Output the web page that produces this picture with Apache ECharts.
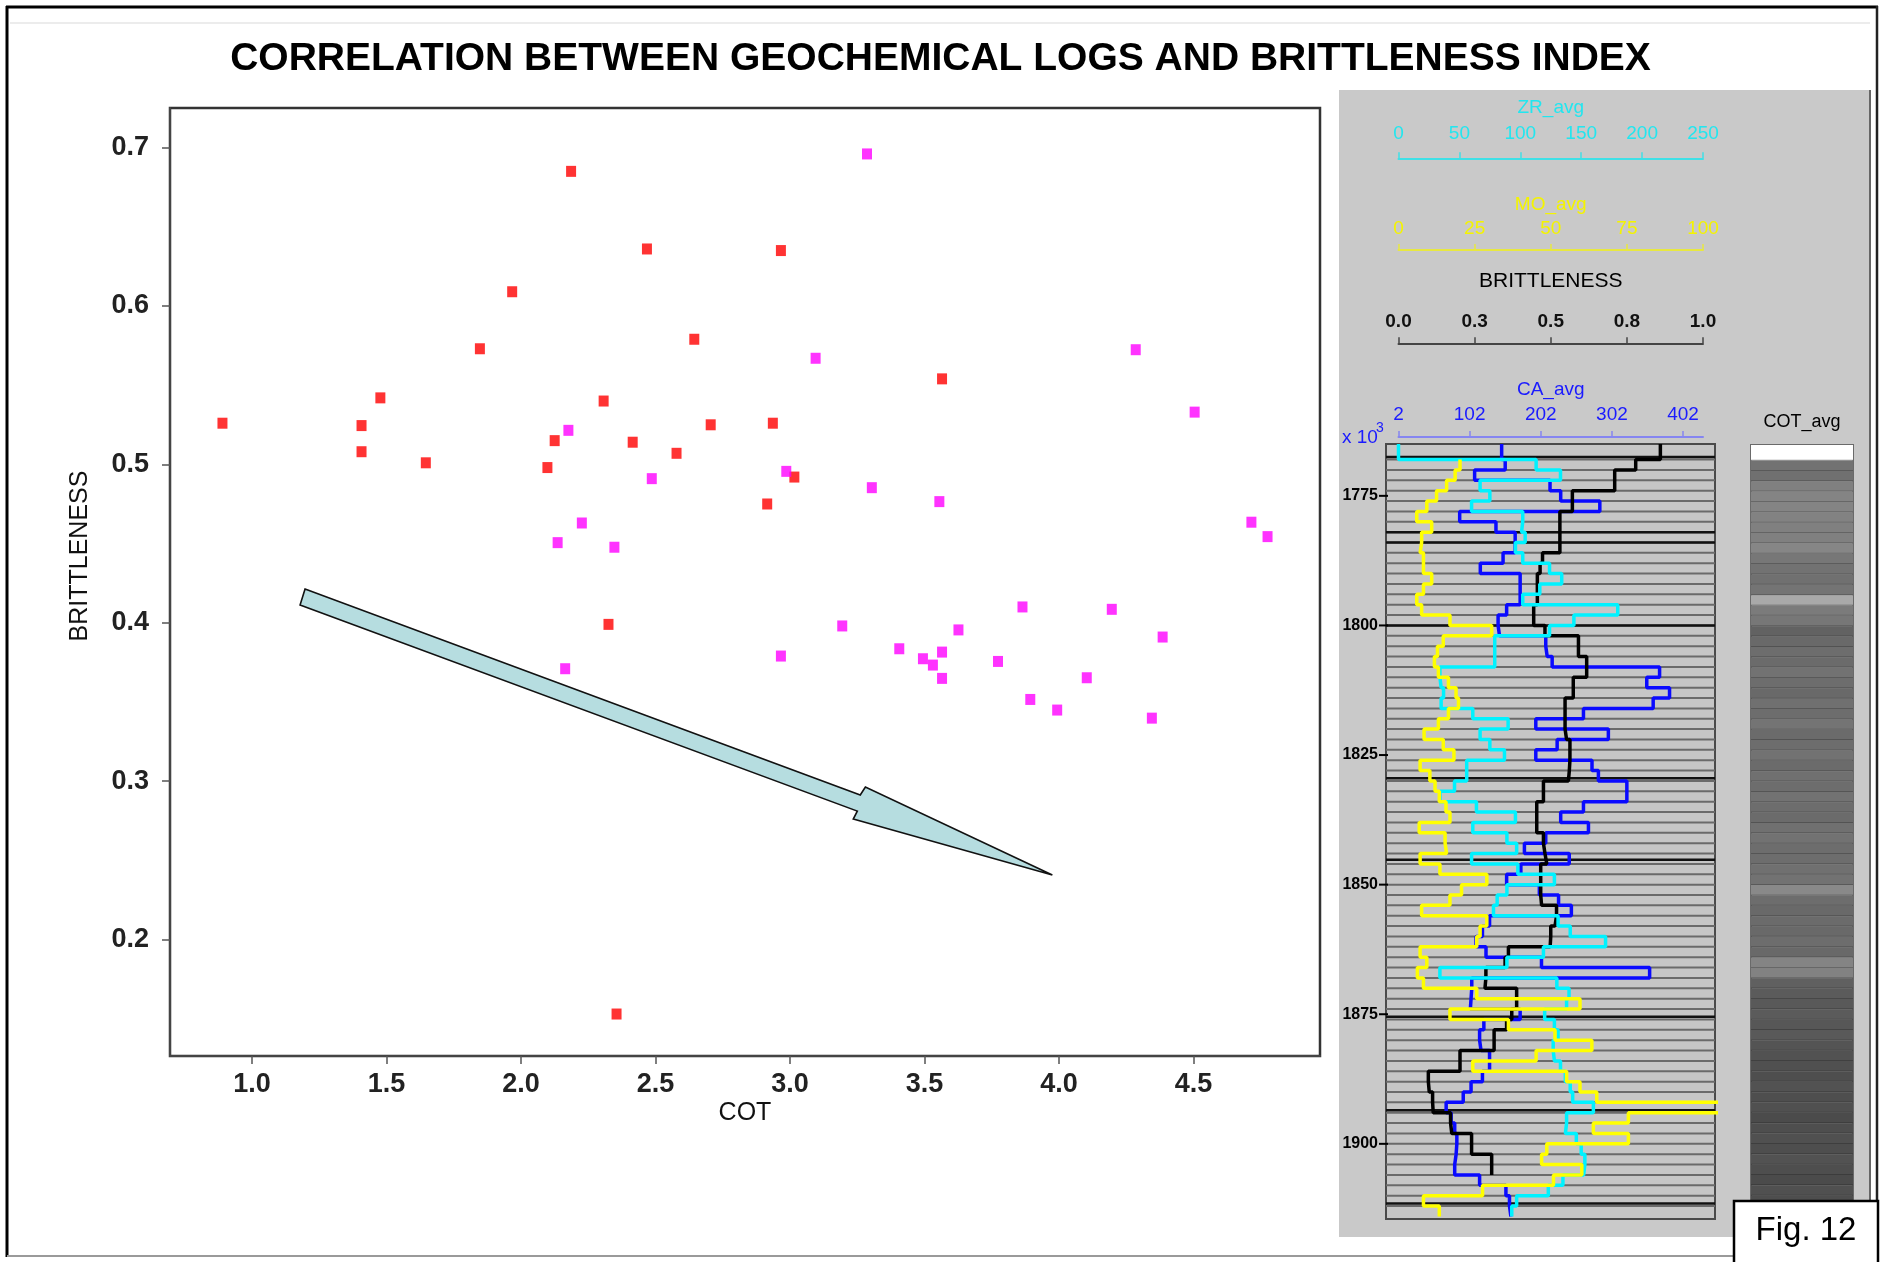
<!DOCTYPE html>
<html>
<head>
<meta charset="utf-8">
<script src="https://cdn.jsdelivr.net/npm/echarts@6/dist/echarts.min.js"></script>
<style>html,body{margin:0;padding:0;background:#fff}#c{width:1881px;height:1262px}</style>
</head>
<body>
<div id="c"></div>
<script>
// ---------------- DATA ----------------
// Scatter: [COT, BRITTLENESS]
const redPts = [[0.89,0.526],[1.407,0.5245],[1.407,0.508],[1.477,0.542],[1.646,0.501],[1.847,0.573],[1.967,0.609],
  [2.186,0.685],[2.468,0.636],[2.307,0.540],[2.125,0.515],[2.098,0.498],[2.415,0.514],[2.578,0.507],[2.644,0.579],
  [2.325,0.399],[2.966,0.635],[3.565,0.554],[2.705,0.525],[2.936,0.526],[3.016,0.492],[2.915,0.475],[2.355,0.153]];
const magentaPts = [[2.176,0.5215],[2.486,0.491],[2.226,0.463],[2.136,0.4506],[2.347,0.4477],[3.286,0.696],[3.095,0.567],
  [4.285,0.5724],[4.504,0.533],[2.986,0.4956],[3.304,0.4853],[3.555,0.4765],[4.715,0.4635],[4.775,0.4544],[3.864,0.410],
  [4.196,0.4085],[3.194,0.398],[3.626,0.3955],[4.385,0.391],[2.966,0.379],[3.406,0.3836],[3.494,0.3773],[3.565,0.3815],
  [3.531,0.3733],[3.565,0.3649],[3.773,0.3756],[4.103,0.3653],[3.893,0.3516],[3.993,0.3449],[4.345,0.3398],[2.164,0.371]];
const xTickVals = [1.0,1.5,2.0,2.5,3.0,3.5,4.0,4.5];
const yTickVals = [0.2,0.3,0.4,0.5,0.6,0.7];
// Annotation arrow outline (data coordinates of the scatter)
const arrowX = [1.197,3.261,3.280,3.975,3.235,3.250,1.1785];
const arrowY = [0.4213,0.2913,0.2963,0.2408,0.2761,0.2811,0.4112];

// Log panel: interval edges (ft) and step values per interval
const depthEdges = [1765,1768,1770,1772,1774,1776,1778,1780,1782,1784,1786,1788,1790,1792,1794,1796,1798,1800,1802,1804,
  1806,1808,1810,1812,1814,1816,1818,1820,1822,1824,1826,1828,1830,1832,1834,1836,1838,1840,1842,1844,1846,1848,1850,
  1852,1854,1856,1858,1860,1862,1864,1866,1868,1870,1872,1874,1876,1878,1880,1882,1884,1886,1888,1890,1892,1894,1896,
  1898,1900,1902,1904,1906,1908,1910,1912,1914];
const zrAvg = [0,113,133,67,75,60,102,101,104,96,102,124,134,116,102,180,144,124,
  79,79,79,34,35,37,35,61,90,67,75,87,56,56,46,34,64,96,61,89,
  97,60,98,128,89,81,78,131,141,170,119,89,34,130,140,138,120,128,131,
  127,128,133,137,141,143,160,138,137,146,150,153,152,135,123,97,93];
const moAvg = [null,20.2,18.6,15.8,12.5,9.3,6.0,10.9,7.6,7.1,8.2,8.2,10.9,8.2,6.0,7.6,16.9,30.6,
  14.7,12.8,11.8,13.1,16.4,18.9,19.7,16.4,13.1,8.4,14.7,18.2,7.1,10.3,12.0,13.4,15.6,16.9,6.8,15.3,
  15.8,7.1,13.6,29.0,20.7,16.9,7.6,29.0,26.8,25.7,7.1,9.3,6.2,8.2,25.7,59.6,16.9,36.1,51.4,
  63.5,45.2,24.4,55.2,59.6,65.1,120,75.5,64.0,75.5,48.7,47.0,60.2,50.9,27.6,8.2,13.4];
const caAvg = [147,152,109,215,230,285,88,139,166,166,149,117,173,173,173,154,142,144,
  209,211,218,369,351,383,360,262,195,297,225,195,274,283,323,323,262,230,269,209,
  179,242,174,154,200,227,245,130,120,111,125,203,355,105,104,103,173,122,116,
  118,130,130,120,104,93,69,76,81,84,83,81,81,116,153,158,160];
const brittLog = [0.860,0.779,0.710,0.710,0.571,0.571,0.530,0.530,0.530,0.530,0.473,0.465,0.456,0.456,0.456,0.444,0.444,0.481,
  0.591,0.591,0.618,0.618,0.574,0.574,0.547,0.547,0.547,0.552,0.563,0.563,0.561,0.558,0.476,0.476,0.454,0.454,0.454,0.476,
  0.481,0.487,0.467,0.467,0.467,0.470,0.519,0.514,0.500,0.498,0.361,0.350,0.287,0.284,0.388,0.388,0.372,0.355,0.314,
  0.314,0.202,0.202,0.098,0.101,0.112,0.114,0.171,0.175,0.240,0.240,0.306,0.306,null,null,null,null];
const cotAvg = [0.8,3.9,3.95,3.6,3.5,3.5,3.55,3.6,3.6,3.45,3.8,3.9,3.95,3.85,2.7,3.7,3.8,4.25,
  4.1,4.0,4.05,3.9,4.0,4.1,3.95,4.0,3.85,4.05,4.0,3.9,4.05,3.95,4.0,3.9,4.0,4.05,3.95,3.9,
  4.0,4.0,3.95,3.9,3.4,4.0,4.1,4.05,4.1,4.0,4.1,3.5,3.55,4.3,4.4,4.45,4.4,4.5,4.45,
  4.55,4.6,4.65,4.7,4.6,4.7,4.65,4.75,4.7,4.65,4.7,4.6,4.7,4.75,4.65,4.7,4.7];
const depthTicks = [1775,1800,1825,1850,1875,1900];
const caTicks = [2,102,202,302,402];
const darkLineDepths = [1767.5,1782,1784,1800,1829.5,1845.2,1875.5,1893.5,1911.5];

// ---------------- CHART ----------------
const SANS = "'Liberation Sans', Arial, sans-serif";
const chart = echarts.init(document.getElementById('c'), null, {renderer: 'canvas', width: 1881, height: 1262});

function stepPoints(vals) {
  const pts = [];
  for (let i = 0; i < vals.length; i++) {
    if (vals[i] == null) continue;
    pts.push([vals[i], depthEdges[i]]);
    pts.push([vals[i], depthEdges[i + 1]]);
  }
  return pts;
}
function hLineItem(color, width) {
  return function (params, api) {
    const cs = params.coordSys;
    const y = api.coord([api.value(0), api.value(1)])[1];
    return {type: 'line', shape: {x1: cs.x, y1: y, x2: cs.x + cs.width, y2: y},
      style: {stroke: color, lineWidth: width}};
  };
}
function visAxis(offset, min, max, interval, color, lineColor, name, nameGap, margin, nameFont, extra) {
  const ax = {
    gridIndex: 1, type: 'value', position: 'top', offset: offset, min: min, max: max, interval: interval,
    axisLine: {show: true, onZero: false, lineStyle: {color: lineColor, width: 2}},
    axisTick: {show: true, length: 6, lineStyle: {color: lineColor, width: 1.5}},
    axisLabel: {show: true, color: color, fontSize: 19, fontFamily: SANS, margin: margin},
    splitLine: {show: false},
    name: name, nameLocation: 'middle', nameGap: nameGap, nameMoveOverlap: false,
    nameTextStyle: Object.assign({color: color, fontSize: 19, fontFamily: SANS}, nameFont || {})
  };
  return Object.assign(ax, extra || {});
}

const option = {
  animation: false,
  backgroundColor: '#ffffff',
  textStyle: {fontFamily: SANS},
  title: {
    text: 'CORRELATION BETWEEN GEOCHEMICAL LOGS AND BRITTLENESS INDEX',
    left: 'center', top: 35,
    textStyle: {fontSize: 39, fontWeight: 'bold', fontFamily: SANS, color: '#000'}
  },
  grid: [
    {left: 170, top: 108, width: 1150, height: 948, show: true, borderColor: '#333', borderWidth: 2.5,
     backgroundColor: '#fff', containLabel: false, outerBoundsMode: 'none'},
    {left: 1398.5, top: 437, width: 304.5, height: 2, show: false, containLabel: false, outerBoundsMode: 'none'},
    {left: 1386, top: 444, width: 329, height: 775, show: true, backgroundColor: '#c6c6c6',
     borderColor: '#4a4a4a', borderWidth: 2, containLabel: false, outerBoundsMode: 'none'},
    {left: 1751, top: 445, width: 102, height: 774, show: true, backgroundColor: '#c6c6c6',
     borderColor: '#6a6a6a', borderWidth: 2, containLabel: false, outerBoundsMode: 'none'}
  ],
  xAxis: [
    {gridIndex: 0, type: 'value', min: 0.695, max: 4.97,
     axisLine: {show: true, onZero: false, lineStyle: {color: '#444', width: 2}},
     axisTick: {show: true, length: 8, customValues: xTickVals, lineStyle: {color: '#555', width: 1.5}},
     axisLabel: {customValues: xTickVals, formatter: v => Number(v).toFixed(1), fontSize: 27, fontWeight: 'bold',
       fontFamily: SANS, color: '#222', margin: 15},
     splitLine: {show: false},
     name: 'COT', nameLocation: 'middle', nameGap: 45, nameMoveOverlap: false,
     nameTextStyle: {fontSize: 25, color: '#111', fontFamily: SANS}},
    visAxis(278.7, 0, 250, 50, '#22e6ef', '#3fe0e6', 'ZR_avg', 41, 15),
    visAxis(187, 0, 100, 25, '#f4f400', '#e8e840', 'MO_avg', 36, 12),
    visAxis(93.7, 0, 1, 0.25, '#111', '#444', 'BRITTLENESS', 52, 12, {color: '#000', fontSize: 21},
      {axisLabel: {show: true, color: '#111', fontSize: 19, fontFamily: SANS, margin: 12, fontWeight: 'bold',
        formatter: v => Number(v).toFixed(1)}}),
    visAxis(0, 2, 430, 100, '#1a1aff', '#8585f0', 'CA_avg', 38, 12.5, null,
      {axisLabel: {show: true, color: '#1a1aff', fontSize: 19, fontFamily: SANS, margin: 12.5, customValues: caTicks},
       axisTick: {show: true, length: 6, customValues: caTicks, lineStyle: {color: '#8585f0', width: 1.5}}}),
    {gridIndex: 2, type: 'value', show: false, min: -10.26, max: 259.85},
    {gridIndex: 2, type: 'value', show: false, min: -4.105, max: 103.94},
    {gridIndex: 2, type: 'value', show: false, min: -0.04105, max: 1.03941},
    {gridIndex: 2, type: 'value', show: false, min: -15.57, max: 446.9},
    {gridIndex: 3, type: 'value', show: false, min: 0, max: 1}
  ],
  yAxis: [
    {gridIndex: 0, type: 'value', min: 0.1265, max: 0.725,
     axisLine: {show: true, onZero: false, lineStyle: {color: '#444', width: 2}},
     axisTick: {show: true, length: 8, customValues: yTickVals, lineStyle: {color: '#555', width: 1.5}},
     axisLabel: {customValues: yTickVals, formatter: v => Number(v).toFixed(1), fontSize: 27, fontWeight: 'bold',
       fontFamily: SANS, color: '#222', margin: 21},
     splitLine: {show: false},
     name: 'BRITTLENESS', nameLocation: 'middle', nameGap: 77, nameMoveOverlap: false,
     nameTextStyle: {fontSize: 25, color: '#111', fontFamily: SANS, padding: [0, 0, 0, 52]}},
    {gridIndex: 1, type: 'value', show: false, min: 0, max: 1},
    {gridIndex: 2, type: 'value', inverse: true, min: 1765, max: 1914.5,
     axisLine: {show: false},
     axisTick: {show: false},
     axisLabel: {customValues: depthTicks, formatter: v => String(Math.round(v)), fontSize: 16, fontFamily: SANS,
       fontWeight: 'bold', color: '#000', margin: 8},
     splitLine: {show: false}},
    {gridIndex: 3, type: 'value', show: false, inverse: true, min: 1765, max: 1914.5}
  ],
  visualMap: [{
    type: 'continuous', show: false, seriesIndex: 9, dimension: 3, min: 0.8, max: 5,
    inRange: {color: ['#ffffff', '#404040']}
  }],
  series: [
    {type: 'scatter', xAxisIndex: 0, yAxisIndex: 0, data: redPts, symbol: 'rect', symbolSize: [10, 11],
     itemStyle: {color: '#ff0000'}, z: 5},
    {type: 'scatter', xAxisIndex: 0, yAxisIndex: 0, data: magentaPts, symbol: 'rect', symbolSize: [10, 11],
     itemStyle: {color: '#ff00ff'}, z: 5},
    {type: 'custom', xAxisIndex: 0, yAxisIndex: 0, data: [[arrowX[0], arrowY[0]]], silent: true, z: 3,
     renderItem: function (params, api) {
       const pts = arrowX.map((x, i) => api.coord([x, arrowY[i]]));
       return {type: 'polygon', shape: {points: pts},
         style: {fill: '#b6dde0', stroke: '#111', lineWidth: 1.6}};
     }},
    {type: 'custom', xAxisIndex: 5, yAxisIndex: 2, silent: true, z: 1,
     data: depthEdges.slice(1, -1).map(d => [0, d]), encode: {x: 0, y: 1},
     renderItem: hLineItem('#6a6a6a', 2)},
    {type: 'custom', xAxisIndex: 5, yAxisIndex: 2, silent: true, z: 1,
     data: darkLineDepths.map(d => [0, d]), encode: {x: 0, y: 1},
     renderItem: hLineItem('#111', 2.5)},
    {type: 'line', xAxisIndex: 8, yAxisIndex: 2, data: stepPoints(caAvg), showSymbol: false, symbol: 'none',
     clip: true, z: 3, lineStyle: {color: '#0a0aff', width: 3.5}},
    {type: 'line', xAxisIndex: 7, yAxisIndex: 2, data: stepPoints(brittLog), showSymbol: false, symbol: 'none',
     clip: true, z: 3, lineStyle: {color: '#000000', width: 3.5}},
    {type: 'line', xAxisIndex: 5, yAxisIndex: 2, data: stepPoints(zrAvg), showSymbol: false, symbol: 'none',
     clip: true, z: 4, lineStyle: {color: '#00f2ff', width: 3.5}},
    {type: 'line', xAxisIndex: 6, yAxisIndex: 2, data: stepPoints(moAvg), showSymbol: false, symbol: 'none',
     clip: true, z: 4, lineStyle: {color: '#ffff00', width: 3.5}},
    {type: 'custom', xAxisIndex: 9, yAxisIndex: 3, silent: true, z: 2,
     data: cotAvg.map((v, i) => [0.5, depthEdges[i], depthEdges[i + 1], v]),
     dimensions: ['x', 'top', 'bottom', 'cot'], encode: {x: 0, y: [1, 2]},
     renderItem: function (params, api) {
       const cs = params.coordSys;
       const y1 = api.coord([0.5, api.value(1)])[1];
       const y2 = api.coord([0.5, api.value(2)])[1];
       const c = api.visual('color');
       return {type: 'group', children: [
         {type: 'rect', shape: {x: cs.x, y: y1, width: cs.width, height: y2 - y1}, style: {fill: c}},
         {type: 'line', shape: {x1: cs.x, y1: y2, x2: cs.x + cs.width, y2: y2},
          style: {stroke: 'rgba(0,0,0,0.22)', lineWidth: 2}}
       ]};
     }},
    // depth ticks on the left of the track (drawn through the depth scale)
    {type: 'custom', xAxisIndex: 5, yAxisIndex: 2, silent: true, z: 6, clip: false,
     data: depthTicks.map(d => [0, d]), encode: {x: 0, y: 1},
     renderItem: function (params, api) {
       const cs = params.coordSys;
       const y = api.coord([api.value(0), api.value(1)])[1];
       return {type: 'line', shape: {x1: cs.x - 7, y1: y, x2: cs.x + 2, y2: y},
         style: {stroke: '#000', lineWidth: 2}};
     }}
  ],
  graphic: {elements: [
    {type: 'rect', z: -10, silent: true, shape: {x: 1339, y: 90, width: 531, height: 1147}, style: {fill: '#c9c9c9'}},
    {type: 'line', z: 10, silent: true, shape: {x1: 1870, y1: 90, x2: 1870, y2: 1237}, style: {stroke: '#666', lineWidth: 2}},
    {type: 'line', z: 10, silent: true, shape: {x1: 10, y1: 23, x2: 1870, y2: 23}, style: {stroke: '#d9d9d9', lineWidth: 1}},
    {type: 'line', z: 20, silent: true, shape: {x1: 6, y1: 7, x2: 1878, y2: 7}, style: {stroke: '#000', lineWidth: 3}},
    {type: 'line', z: 20, silent: true, shape: {x1: 7, y1: 6, x2: 7, y2: 1257}, style: {stroke: '#000', lineWidth: 3}},
    {type: 'line', z: 20, silent: true, shape: {x1: 1877, y1: 6, x2: 1877, y2: 1257}, style: {stroke: '#222', lineWidth: 2.5}},
    {type: 'line', z: 20, silent: true, shape: {x1: 7, y1: 1256, x2: 1877, y2: 1256}, style: {stroke: '#9a9a9a', lineWidth: 2}},
    {type: 'text', z: 20, silent: true, x: 1802, y: 422,
     style: {text: 'COT_avg', fontSize: 18, fontFamily: SANS, fill: '#000', align: 'center', verticalAlign: 'middle',
       textAlign: 'center', textVerticalAlign: 'middle'}},
    {type: 'text', z: 20, silent: true, x: 1342, y: 438,
     style: {text: 'x 10', fontSize: 19, fontFamily: SANS, fill: '#1a1aff', align: 'left', verticalAlign: 'middle',
       textAlign: 'left', textVerticalAlign: 'middle'}},
    {type: 'text', z: 20, silent: true, x: 1376, y: 428,
     style: {text: '3', fontSize: 14, fontFamily: SANS, fill: '#1a1aff', align: 'left', verticalAlign: 'middle',
       textAlign: 'left', textVerticalAlign: 'middle'}},
    {type: 'rect', z: 50, silent: true, shape: {x: 1734, y: 1201, width: 144, height: 70},
     style: {fill: '#fff', stroke: '#000', lineWidth: 2.5}},
    {type: 'text', z: 51, silent: true, x: 1806, y: 1231,
     style: {text: 'Fig. 12', fontSize: 33, fontFamily: SANS, fill: '#000', align: 'center', verticalAlign: 'middle',
       textAlign: 'center', textVerticalAlign: 'middle'}}
  ]}
};
chart.setOption(option);
</script>
</body>
</html>
